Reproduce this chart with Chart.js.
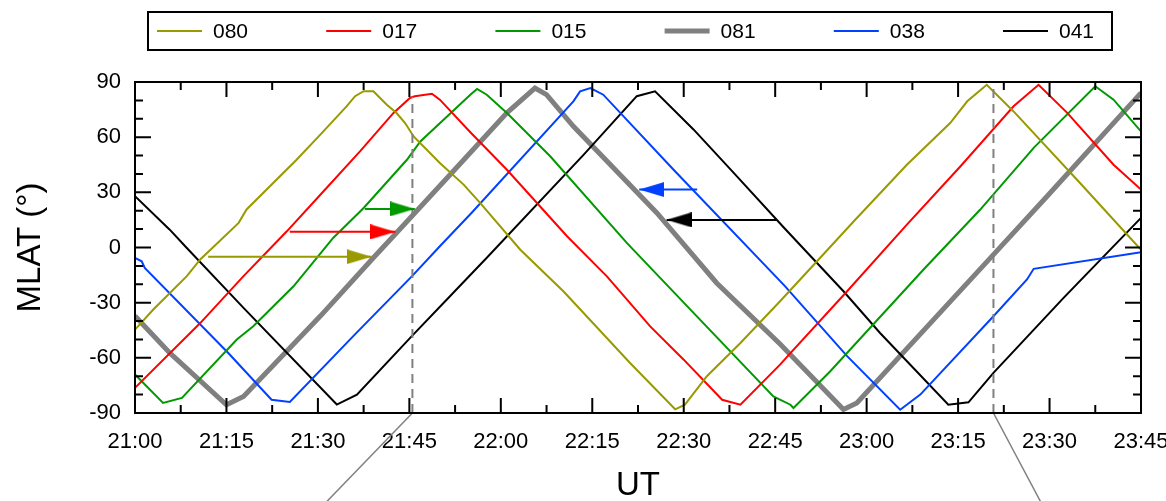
<!DOCTYPE html>
<html>
<head>
<meta charset="utf-8">
<title>MLAT vs UT</title>
<script src="https://cdn.jsdelivr.net/npm/chart.js@4.4.0/dist/chart.umd.min.js"></script>
<style>
    html, body { margin: 0; padding: 0; background: #fff; }
    #wrap { width: 1166px; height: 501px; }
</style>
</head>
<body>
<div id="wrap"><canvas id="mlatChart" width="1166" height="501"></canvas></div>
<script>
// x values are minutes after 21:00 UT
const xTickLabels = ['21:00', '21:15', '21:30', '21:45', '22:00', '22:15', '22:30', '22:45', '23:00', '23:15', '23:30', '23:45'];
const yTickValues = [-90, -60, -30, 0, 30, 60, 90];

const seriesNames = ['080', '017', '015', '081', '038', '041'];
const seriesColors = ['#999900', '#ff0000', '#009900', '#808080', '#0040ff', '#000000'];

const t080 = [0, 3.0, 8.5, 10.7, 17.0, 18.3, 26.5, 30.4, 34.7, 36.1, 37.5, 39.1, 41.3, 42.9, 44.3, 45.7, 50.0, 53.9, 56.6, 63.2, 70.3, 81.2, 88.6, 90.2, 93.8, 99.3, 105.8, 109.1, 117.9, 126.6, 133.7, 136.5, 139.7, 144.1, 155.0, 165];
const lat080 = [-44.7, -33.7, -15.6, -6.5, 13.4, 20.7, 47.7, 61.4, 76.7, 82.3, 85.0, 85.0, 77.6, 73.1, 67.7, 60.4, 46.0, 34.2, 24.3, -1.2, -23.9, -62.8, -88.0, -85.5, -70.0, -51.9, -29.2, -17.4, 14.3, 45.0, 67.7, 79.5, 88.5, 74.0, 35.1, -1.2];

const t017 = [0, 10.7, 17.8, 24.9, 30.4, 36.9, 42.4, 45.1, 45.9, 48.7, 50.0, 55.0, 61.0, 70.9, 77.4, 84.5, 90.0, 96.3, 99.3, 105.8, 107.5, 116.8, 126.6, 135.4, 144.1, 148.2, 152.9, 160.5, 165];
const lat017 = [-76.3, -41.1, -15.6, 8.8, 28.7, 52.3, 73.2, 81.3, 82.2, 83.6, 80.4, 62.7, 42.3, 6.0, -15.7, -42.9, -61.0, -82.8, -85.5, -63.7, -57.4, -23.8, 12.4, 44.2, 76.8, 88.5, 73.2, 45.0, 31.5];

const t015 = [0, 4.6, 7.7, 16.7, 19.4, 26.0, 32.5, 37.5, 44.6, 46.8, 55.0, 56.1, 57.7, 61.0, 68.1, 80.7, 91.1, 104.7, 107.5, 108.0, 114.0, 129.3, 138.6, 147.4, 157.5, 160.5, 165];
const lat015 = [-69.1, -84.5, -81.8, -50.0, -42.8, -21.1, 5.2, 21.5, 47.7, 57.7, 83.1, 86.2, 83.1, 73.1, 49.6, 2.4, -33.8, -81.0, -85.5, -87.3, -67.4, -12.1, 20.5, 54.2, 87.7, 80.4, 63.1];

const t081 = [0, 5.7, 15.0, 17.8, 30.4, 39.1, 42.9, 52.2, 61.0, 65.6, 67.5, 71.9, 85.6, 95.4, 105.8, 116.2, 118.4, 140.8, 149.6, 165];
const lat081 = [-37.3, -57.3, -85.5, -81.0, -37.3, -5.6, 8.0, 41.5, 73.2, 86.7, 83.1, 65.9, 18.8, -19.3, -52.5, -88.1, -84.5, -3.9, 27.9, 84.1];

const t038 = [0, 1.1, 1.6, 15.3, 22.4, 25.4, 35.8, 45.4, 50.0, 55.3, 71.9, 73.0, 74.7, 76.8, 88.3, 106.6, 116.8, 125.5, 128.8, 140.8, 146.3, 147.4, 165];
const lat038 = [-5.6, -7.5, -11.1, -57.4, -82.8, -84.0, -48.2, -15.7, 0.7, 19.2, 79.5, 84.9, 86.7, 83.1, 42.4, -21.0, -59.1, -88.2, -80.0, -37.4, -17.4, -11.6, -2.6];

const t041 = [0, 5.7, 8.5, 17.8, 33.1, 36.4, 45.4, 51.7, 57.7, 73.6, 82.3, 85.3, 91.6, 98.2, 106.6, 116.2, 122.2, 133.4, 136.7, 140.8, 152.3, 165];
const lat041 = [27.9, 9.7, -0.3, -32.8, -85.4, -80.0, -48.2, -26.4, -5.6, 50.5, 82.3, 84.9, 64.2, 40.6, 10.2, -23.8, -46.5, -85.5, -84.2, -68.2, -27.4, 16.1];

// horizontal arrows
const arrowColorIdx = [0, 1, 2, 4, 5];
const arrowFrom = [12.0, 25.4, 37.7, 92.2, 105.3];
const arrowTo = [38.8, 42.7, 45.9, 82.7, 87.2];
const arrowLat = [-5.0, 8.5, 21.0, 31.5, 15.0];

// dashed markers and their leader lines
const markerTimes = [45.5, 140.8];
const markerTopLat = [82.0, 89.0];
const leaderEndTimes = [31.5, 148.5];
const leaderEndLat = [-138, -138];

const seriesT = [t080, t017, t015, t081, t038, t041];
const seriesLat = [lat080, lat017, lat015, lat081, lat038, lat041];

function zip(ts, ys) {
    return ts.map((t, i) => ({ x: t, y: ys[i] }));
}

function makeHead(color) {
    const len = 25, w = 15;
    const c = document.createElement('canvas');
    c.width = len * 2;
    c.height = w;
    const g = c.getContext('2d');
    g.fillStyle = color;
    g.beginPath();
    g.moveTo(0, 0);
    g.lineTo(len, w / 2);
    g.lineTo(0, w);
    g.closePath();
    g.fill();
    return c;
}

const datasets = [];

arrowFrom.forEach((from, i) => {
    const color = seriesColors[arrowColorIdx[i]];
    datasets.push({
        label: 'arrow',
        data: [{ x: from, y: arrowLat[i] }, { x: arrowTo[i], y: arrowLat[i] }],
        borderColor: color,
        borderWidth: 2,
        pointRadius: [0, 1],
        pointStyle: makeHead(color),
        pointRotation: arrowTo[i] > from ? 0 : 180,
        order: 0
    });
});

markerTimes.forEach((t, i) => {
    datasets.push({
        label: 'marker',
        data: [{ x: t, y: -90 }, { x: t, y: markerTopLat[i] }],
        borderColor: '#808080',
        borderWidth: 2,
        borderDash: [9, 6],
        pointRadius: 0,
        order: 1
    });
    datasets.push({
        label: 'leader',
        data: [{ x: t, y: -90 }, { x: leaderEndTimes[i], y: leaderEndLat[i] }],
        borderColor: '#808080',
        borderWidth: 1.5,
        pointRadius: 0,
        clip: false,
        order: 1
    });
});

seriesNames.forEach((name, i) => {
    datasets.push({
        label: name,
        data: zip(seriesT[i], seriesLat[i]),
        borderColor: seriesColors[i],
        borderWidth: name === '081' ? 5 : 2,
        pointRadius: 0,
        tension: 0,
        order: name === '081' ? 3 : 2
    });
});

// frame with inward ticks on all four sides
const frameTicks = {
    id: 'frameTicks',
    afterDatasetsDraw(chart) {
        const { ctx, chartArea: a, scales: { x, y } } = chart;
        ctx.save();
        ctx.strokeStyle = '#000';
        ctx.lineWidth = 2;
        ctx.beginPath();
        for (let m = 0; m <= 165; m += 7.5) {
            const px = x.getPixelForValue(m);
            const len = m % 15 === 0 ? 15 : 8;
            ctx.moveTo(px, a.bottom); ctx.lineTo(px, a.bottom - len);
            ctx.moveTo(px, a.top); ctx.lineTo(px, a.top + len);
        }
        for (let v = -90; v <= 90; v += 10) {
            const py = y.getPixelForValue(v);
            const len = v % 30 === 0 ? 16 : 8;
            ctx.moveTo(a.left, py); ctx.lineTo(a.left + len, py);
            ctx.moveTo(a.right, py); ctx.lineTo(a.right - len, py);
        }
        ctx.stroke();
        ctx.strokeRect(a.left, a.top, a.right - a.left, a.bottom - a.top);
        ctx.restore();
    }
};

// boxed legend above the plot
const boxLegend = {
    id: 'boxLegend',
    afterDraw(chart) {
        const ctx = chart.ctx;
        ctx.save();
        ctx.strokeStyle = '#000';
        ctx.lineWidth = 2;
        ctx.strokeRect(148, 12, 964, 38);
        ctx.font = '21px "Liberation Sans", Arial, sans-serif';
        ctx.textBaseline = 'middle';
        seriesNames.forEach((name, i) => {
            const x0 = 157 + i * 169.2;
            ctx.beginPath();
            ctx.strokeStyle = seriesColors[i];
            ctx.lineWidth = name === '081' ? 5 : 2;
            ctx.moveTo(x0, 31);
            ctx.lineTo(x0 + 45, 31);
            ctx.stroke();
            ctx.fillStyle = '#000';
            ctx.fillText(name, x0 + 56, 32);
        });
        ctx.restore();
    }
};

Chart.defaults.font.family = '"Liberation Sans", Arial, sans-serif';
Chart.defaults.color = '#000';

new Chart(document.getElementById('mlatChart'), {
    type: 'line',
    data: { datasets },
    options: {
        responsive: false,
        animation: false,
        devicePixelRatio: 1,
        layout: { padding: { top: 82, right: 25, bottom: 0, left: 0 } },
        plugins: {
            legend: { display: false },
            tooltip: { enabled: false }
        },
        scales: {
            x: {
                type: 'linear',
                min: 0,
                max: 165,
                grid: { display: false, drawTicks: false },
                border: { display: false },
                ticks: {
                    stepSize: 15,
                    padding: 16,
                    maxRotation: 0,
                    autoSkip: false,
                    font: { size: 22 },
                    callback: value => xTickLabels[Math.round(value / 15)]
                },
                title: {
                    display: true,
                    text: 'UT',
                    font: { size: 33, lineHeight: 1 },
                    padding: { top: 0, bottom: -1 }
                },
                afterFit(scale) {
                    scale.height = 88;
                    scale.paddingLeft = 0;
                    scale.paddingRight = 0;
                }
            },
            y: {
                min: -90,
                max: 90,
                grid: { display: false, drawTicks: false },
                border: { display: false },
                afterBuildTicks(scale) {
                    scale.ticks = yTickValues.map(v => ({ value: v }));
                },
                ticks: {
                    padding: 14,
                    font: { size: 22 }
                },
                title: {
                    display: true,
                    text: 'MLAT (°)',
                    font: { size: 33, lineHeight: 1 },
                    padding: { top: 14, bottom: 0 }
                },
                afterFit(scale) {
                    scale.width = 135;
                }
            }
        }
    },
    plugins: [frameTicks, boxLegend]
});
</script>
</body>
</html>
